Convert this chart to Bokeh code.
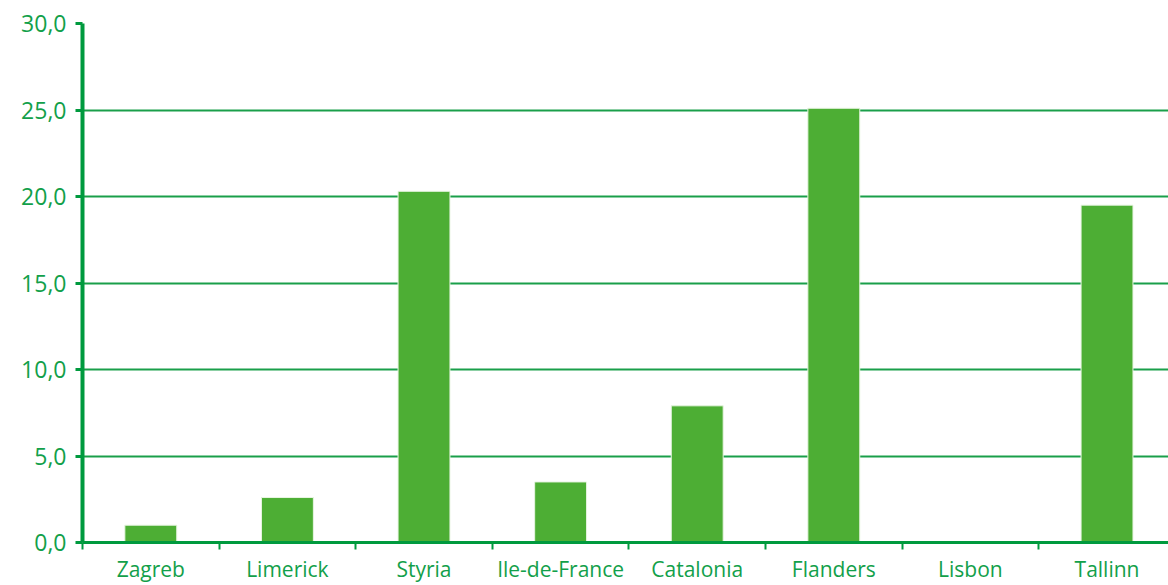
from bokeh.plotting import figure
from bokeh.models import Range1d, FixedTicker, ColumnDataSource
from bokeh.embed import file_html
from bokeh.resources import INLINE

categories = ["Zagreb", "Limerick", "Styria", "Ile-de-France", "Catalonia", "Flanders", "Lisbon", "Tallinn"]
values = [1.0, 2.6, 20.3, 3.5, 7.9, 25.1, 0.0, 19.5]
y_ticks = [0, 5, 10, 15, 20, 25, 30]
y_labels = ["0,0", "5,0", "10,0", "15,0", "20,0", "25,0", "30,0"]

GREEN_AX = "#009a3e"
GREEN_TXT = "#12a04a"
BAR = "#4dae34"

xs = [i + 0.5 for i in range(len(categories))]
src = ColumnDataSource(dict(x=xs, top=[v for v in values], cat=categories))

p = figure(width=1168, height=585, output_backend="svg", toolbar_location=None,
           x_range=Range1d(0, 7.95), y_range=Range1d(0, 30),
           min_border_left=82, min_border_right=0, min_border_top=23, min_border_bottom=30)
p.outline_line_color = None
p.background_fill_color = "white"

p.vbar(x="x", top="top", width=0.38, bottom=0, source=src,
       fill_color=BAR, line_color="#e8f5e2", line_width=1)

# y axis
ya = p.yaxis[0]
ya.ticker = FixedTicker(ticks=y_ticks)
ya.major_label_overrides = {t: l for t, l in zip(y_ticks, y_labels)}
ya.axis_line_color = GREEN_AX
ya.axis_line_width = 4
ya.major_tick_line_color = GREEN_AX
ya.major_tick_line_width = 3
ya.major_tick_out = 7
ya.major_tick_in = 0
ya.minor_tick_line_color = None
ya.major_label_text_color = GREEN_TXT
ya.major_label_text_font = "Open Sans"
ya.major_label_text_font_size = "23px"
ya.major_label_standoff = 9

# x axis
xa = p.xaxis[0]
xa.ticker = FixedTicker(ticks=xs, minor_ticks=list(range(len(categories) + 1)))
xa.major_label_overrides = {x: c for x, c in zip(xs, categories)}
xa.axis_line_color = GREEN_AX
xa.axis_line_width = 3
xa.major_tick_line_color = None
xa.minor_tick_line_color = GREEN_AX
xa.minor_tick_line_width = 2
xa.minor_tick_out = 7
xa.minor_tick_in = 0
xa.major_label_text_color = GREEN_TXT
xa.major_label_text_font = "Open Sans"
xa.major_label_text_font_size = "21px"
xa.major_label_standoff = 5

p.xgrid.grid_line_color = None
p.ygrid.ticker = FixedTicker(ticks=y_ticks)
p.ygrid.grid_line_color = "#1a9f4a"
p.ygrid.grid_line_width = 2

open("out.html", "w").write(file_html(p, INLINE))
